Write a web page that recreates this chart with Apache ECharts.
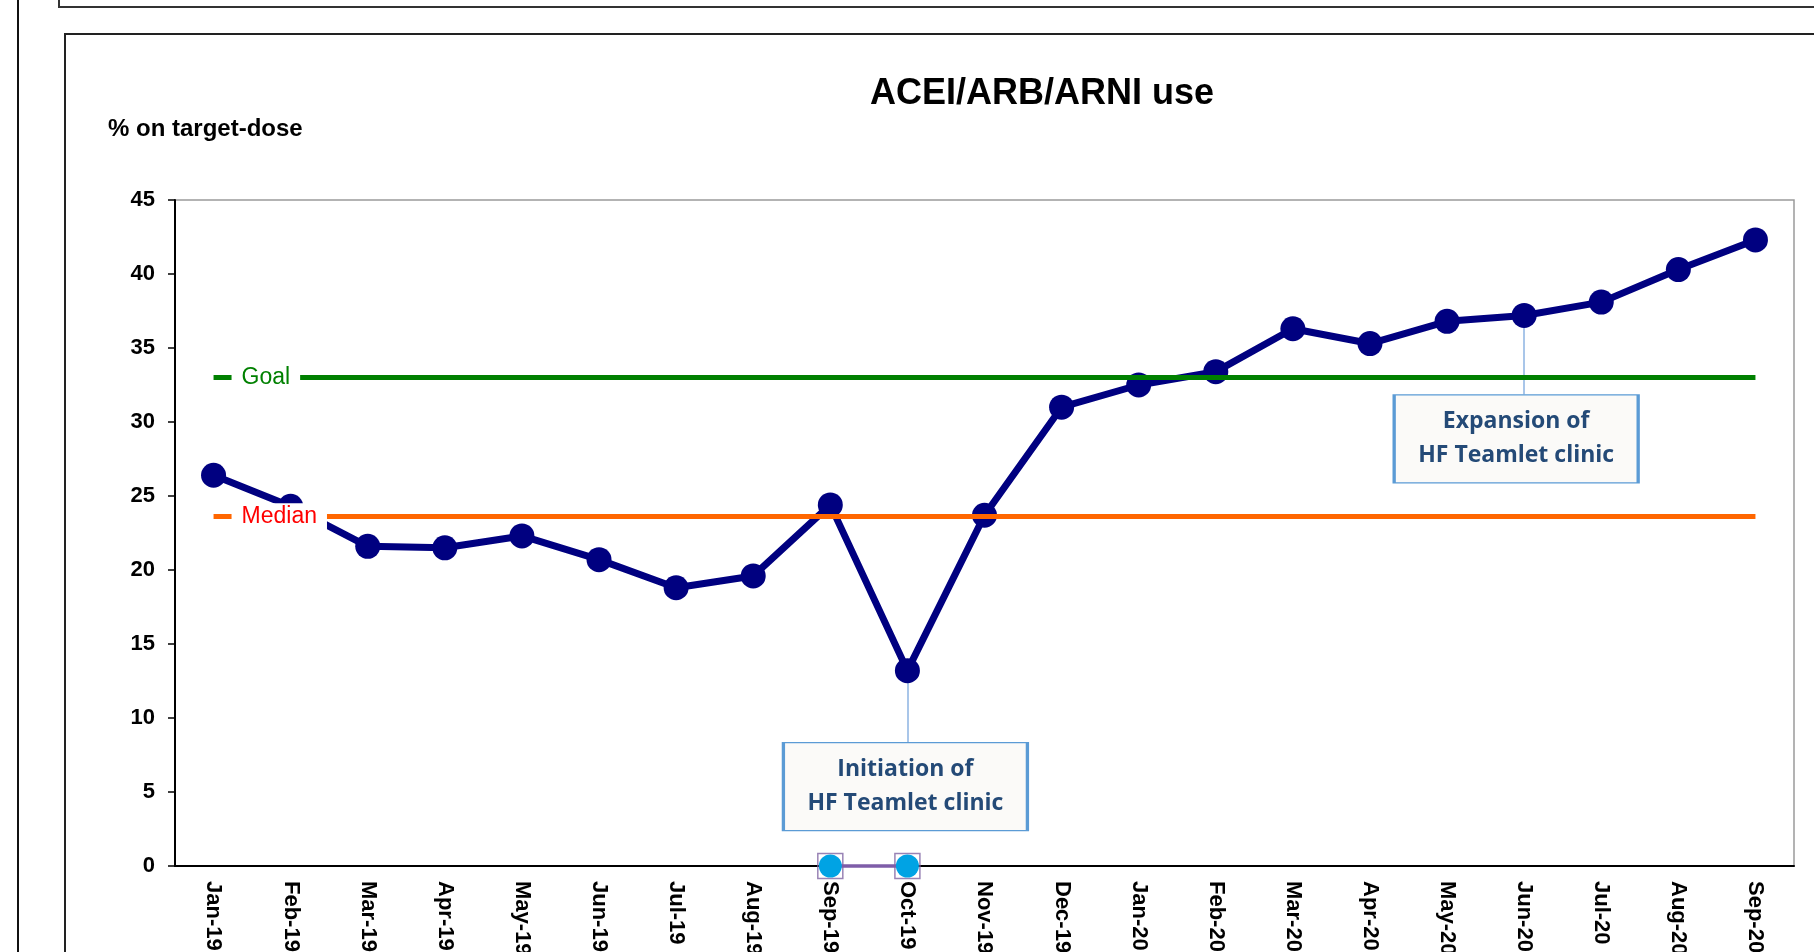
<!DOCTYPE html>
<html>
<head>
<meta charset="utf-8">
<script src="https://cdn.jsdelivr.net/npm/echarts@6/dist/echarts.min.js"></script>
<style>
  html, body { margin: 0; padding: 0; background: #fff; overflow: hidden; }
  #chart { width: 1814px; height: 952px; }
</style>
</head>
<body>
<div id="chart"></div>
<script>
// chart data
const months = ['Jan-19', 'Feb-19', 'Mar-19', 'Apr-19', 'May-19', 'Jun-19', 'Jul-19',
  'Aug-19', 'Sep-19', 'Oct-19', 'Nov-19', 'Dec-19', 'Jan-20', 'Feb-20', 'Mar-20',
  'Apr-20', 'May-20', 'Jun-20', 'Jul-20', 'Aug-20', 'Sep-20'];
const onTargetDose = [26.4, 24.3, 21.6, 21.5, 22.3, 20.7, 18.8, 19.6, 24.4, 13.2, 23.7,
  31.0, 32.5, 33.4, 36.3, 35.3, 36.8, 37.2, 38.1, 40.3, 42.3];
// Sep-19 .. Oct-19 event marks sitting on the axis
const eventMarks = [null, null, null, null, null, null, null, null, 0, 0, null,
  null, null, null, null, null, null, null, null, null, null];
const goalValue = 33;
const medianValue = 23.6;
const yTicks = { min: 0, max: 45, interval: 5 };

const chartTitle = 'ACEI/ARB/ARNI use';
const yAxisLabel = '% on target-dose';

// callouts: month of the point, value where the box sits, text
const annotations = [
  { month: 'Oct-19', boxValue: 5.36, boxTop: 8.35, text: 'Initiation of\nHF Teamlet clinic', shift: -2 },
  { month: 'Jun-20', boxValue: 28.86, boxTop: 31.85, text: 'Expansion of\nHF Teamlet clinic', shift: -8 }
];

const FONT = 'Liberation Sans, Arial, sans-serif';

const chart = echarts.init(document.getElementById('chart'));

const refLabel = (txt, color) => ({
  show: true,
  formatter: txt,
  position: 'insideStart',
  distance: [18, 0],
  color: color,
  fontFamily: FONT,
  fontSize: 23,
  backgroundColor: '#fff',
  padding: [2, 10]
});

const option = {
  animation: false,
  backgroundColor: '#fff',
  title: [
    {
      text: chartTitle, left: 870, top: 76, padding: 0,
      textStyle: { fontFamily: FONT, fontSize: 36, fontWeight: 'bold', color: '#000' }
    },
    {
      text: yAxisLabel, left: 108, top: 117, padding: 0,
      textStyle: { fontFamily: FONT, fontSize: 24, fontWeight: 'bold', color: '#000' }
    }
  ],
  graphic: [
    { type: 'line', shape: { x1: 18, y1: 0, x2: 18, y2: 952 }, style: { stroke: '#111', lineWidth: 2 } },
    { type: 'polyline', shape: { points: [[59, 0], [59, 7], [1814, 7]] }, style: { stroke: '#333', lineWidth: 2, fill: null } },
    { type: 'polyline', shape: { points: [[65, 952], [65, 34], [1814, 34]] }, style: { stroke: '#222', lineWidth: 2, fill: null } }
  ],
  grid: {
    left: 175, right: 20, top: 200, bottom: 86,
    outerBoundsMode: 'none',
    containLabel: false,
    show: true, borderColor: '#9a9a9a', borderWidth: 1.5, backgroundColor: 'transparent'
  },
  xAxis: {
    type: 'category',
    data: months,
    boundaryGap: true,
    axisLine: { lineStyle: { color: '#000', width: 2 } },
    axisTick: { length: 8, lineStyle: { color: '#000', width: 1.5 } },
    axisLabel: {
      interval: 0, rotate: -90, margin: 15,
      fontFamily: FONT, fontSize: 22, fontWeight: 'bold', color: '#000'
    },
    splitLine: { show: false }
  },
  yAxis: {
    type: 'value',
    min: yTicks.min, max: yTicks.max, interval: yTicks.interval,
    axisLine: { show: true, lineStyle: { color: '#000', width: 2 } },
    axisTick: { show: true, length: 7, lineStyle: { color: '#000', width: 1.5 } },
    axisLabel: { margin: 20, fontFamily: FONT, fontSize: 22, fontWeight: 'bold', color: '#000' },
    splitLine: { show: false }
  },
  series: [
    {
      name: 'ACEI/ARB/ARNI use',
      type: 'line',
      data: onTargetDose,
      symbol: 'circle',
      symbolSize: 25,
      itemStyle: { color: '#000080' },
      lineStyle: { color: '#000080', width: 7 },
      markLine: {
        symbol: 'none',
        silent: true,
        data: [
          [
            { xAxis: months[0], yAxis: goalValue, lineStyle: { color: '#008000', width: 5, type: 'solid' }, label: refLabel('Goal', '#008000') },
            { xAxis: months[months.length - 1], yAxis: goalValue }
          ],
          [
            { xAxis: months[0], yAxis: medianValue, lineStyle: { color: '#FF6600', width: 5, type: 'solid' }, label: refLabel('Median', '#FF0000') },
            { xAxis: months[months.length - 1], yAxis: medianValue }
          ]
        ]
      }
    },
    {
      name: 'events',
      type: 'line',
      data: eventMarks,
      clip: false,
      symbol: 'circle',
      symbolSize: 23,
      itemStyle: { color: '#00A3E4' },
      lineStyle: { color: '#7E5DA8', width: 3.5 },
      markLine: {
        z: 1,
        symbol: 'none',
        silent: true,
        label: { show: false },
        lineStyle: { color: '#8DB3E2', width: 1.5, type: 'solid' },
        data: annotations.map(a => [
          { coord: [a.month, onTargetDose[months.indexOf(a.month)]] },
          { coord: [a.month, a.boxTop] }
        ])
      },
      markPoint: {
        silent: true,
        data: annotations.map(a => ({
          coord: [a.month, a.boxValue],
          symbol: 'rect',
          symbolSize: [244, 88],
          symbolOffset: [a.shift, 0],
          itemStyle: { color: '#FBFAF8', borderColor: '#5B9BD5', borderWidth: 2 },
          label: {
            show: true,
            position: 'inside',
            formatter: a.text,
            fontFamily: 'Open Sans, sans-serif',
            fontWeight: 'bold',
            fontSize: 23,
            lineHeight: 34,
            color: '#244A77'
          }
        }))
      }
    },
    {
      name: 'eventFrames',
      type: 'scatter',
      data: eventMarks,
      clip: false,
      symbol: 'rect',
      symbolSize: 25,
      itemStyle: { color: 'rgba(0,0,0,0)', borderColor: '#8064A2', borderWidth: 1.5 }
    }
  ]
};

chart.setOption(option);
</script>
</body>
</html>
